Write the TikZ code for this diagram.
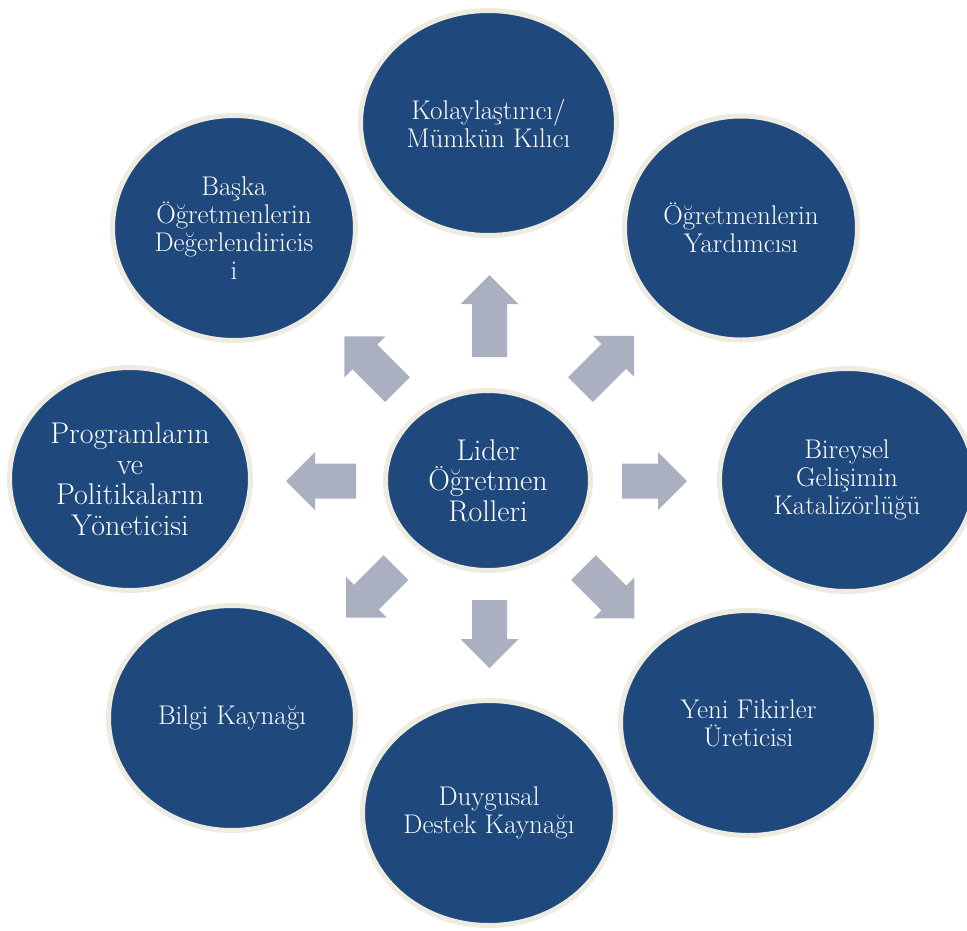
\documentclass[tikz,border=0pt]{standalone}
\usetikzlibrary{shapes.geometric}

\definecolor{rolefill}{HTML}{1F497D}
\definecolor{roleedge}{HTML}{EEECE1}
\definecolor{arrowgray}{HTML}{AAB0BF}

\tikzset{
  role/.style args={#1/#2}{ellipse, draw=roleedge, fill=rolefill, line width=5pt,
    inner sep=0pt, minimum width=#1pt, minimum height=#2pt,
    text=white, align=center, font=\fontsize{27}{28}\selectfont},
  bigtext/.style={font=\fontsize{30}{30.5}\selectfont},
  % block arrow along +x, length #1, shaft 35 wide, head 58 wide and 29 long
  pics/blockarrow/.style={code={
    \fill[arrowgray] (0,-17.5) -- ({#1-29},-17.5) -- ({#1-29},-29) -- (#1,0)
      -- ({#1-29},29) -- ({#1-29},17.5) -- (0,17.5) -- cycle;
  }}
}

\begin{document}
\begin{tikzpicture}[x=1pt, y=-1pt]
  \useasboundingbox[fill=white] (0,0) rectangle (967,930);

  % arrows pointing outward from the centre
  \pic[rotate=90]  at (489.5,357)   {blockarrow=82};
  \pic[rotate=45]  at (580.5,389.5) {blockarrow=76};
  \pic[rotate=0]   at (622,481)     {blockarrow=65};
  \pic[rotate=-45] at (583.5,567.5) {blockarrow=72};
  \pic[rotate=-90] at (489.5,600)   {blockarrow=68};
  \pic[rotate=225] at (396,567.5)   {blockarrow=71};
  \pic[rotate=180] at (356,481)     {blockarrow=70};
  \pic[rotate=135] at (397.5,389.5) {blockarrow=75};

  % central role
  \node[role=205/180, bigtext] (center) at (488,480.5) {Lider\\Öğretmen\\Rolleri};

  % surrounding roles
  \node[role=256/225] (top) at (488.5,123) {Kolaylaştırıcı/\\Mümkün Kılıcı};
  \node[role=233/224] (topright) at (741,228) {Öğretmenlerin\\Yardımcısı};
  \node[role=255/223] (right) at (847,480) {Bireysel\\Gelişimin\\Katalizörlüğü};
  \node[role=256/225] (bottomright) at (748.5,723) {Yeni Fikirler\\Üreticisi};
  \node[role=253/225] (bottom) at (489,813) {Duygusal\\Destek Kaynağı};
  \node[role=247/225] (bottomleft) at (232,718) {Bilgi Kaynağı};
  \node[role=241/223, bigtext] (left) at (130,479) {Programların\\ve\\Politikaların\\Yöneticisi};
  \node[role=243/225] (topleft) at (234,228) {Başka\\Öğretmenlerin\\Değerlendiricis\\i};
\end{tikzpicture}
\end{document}
